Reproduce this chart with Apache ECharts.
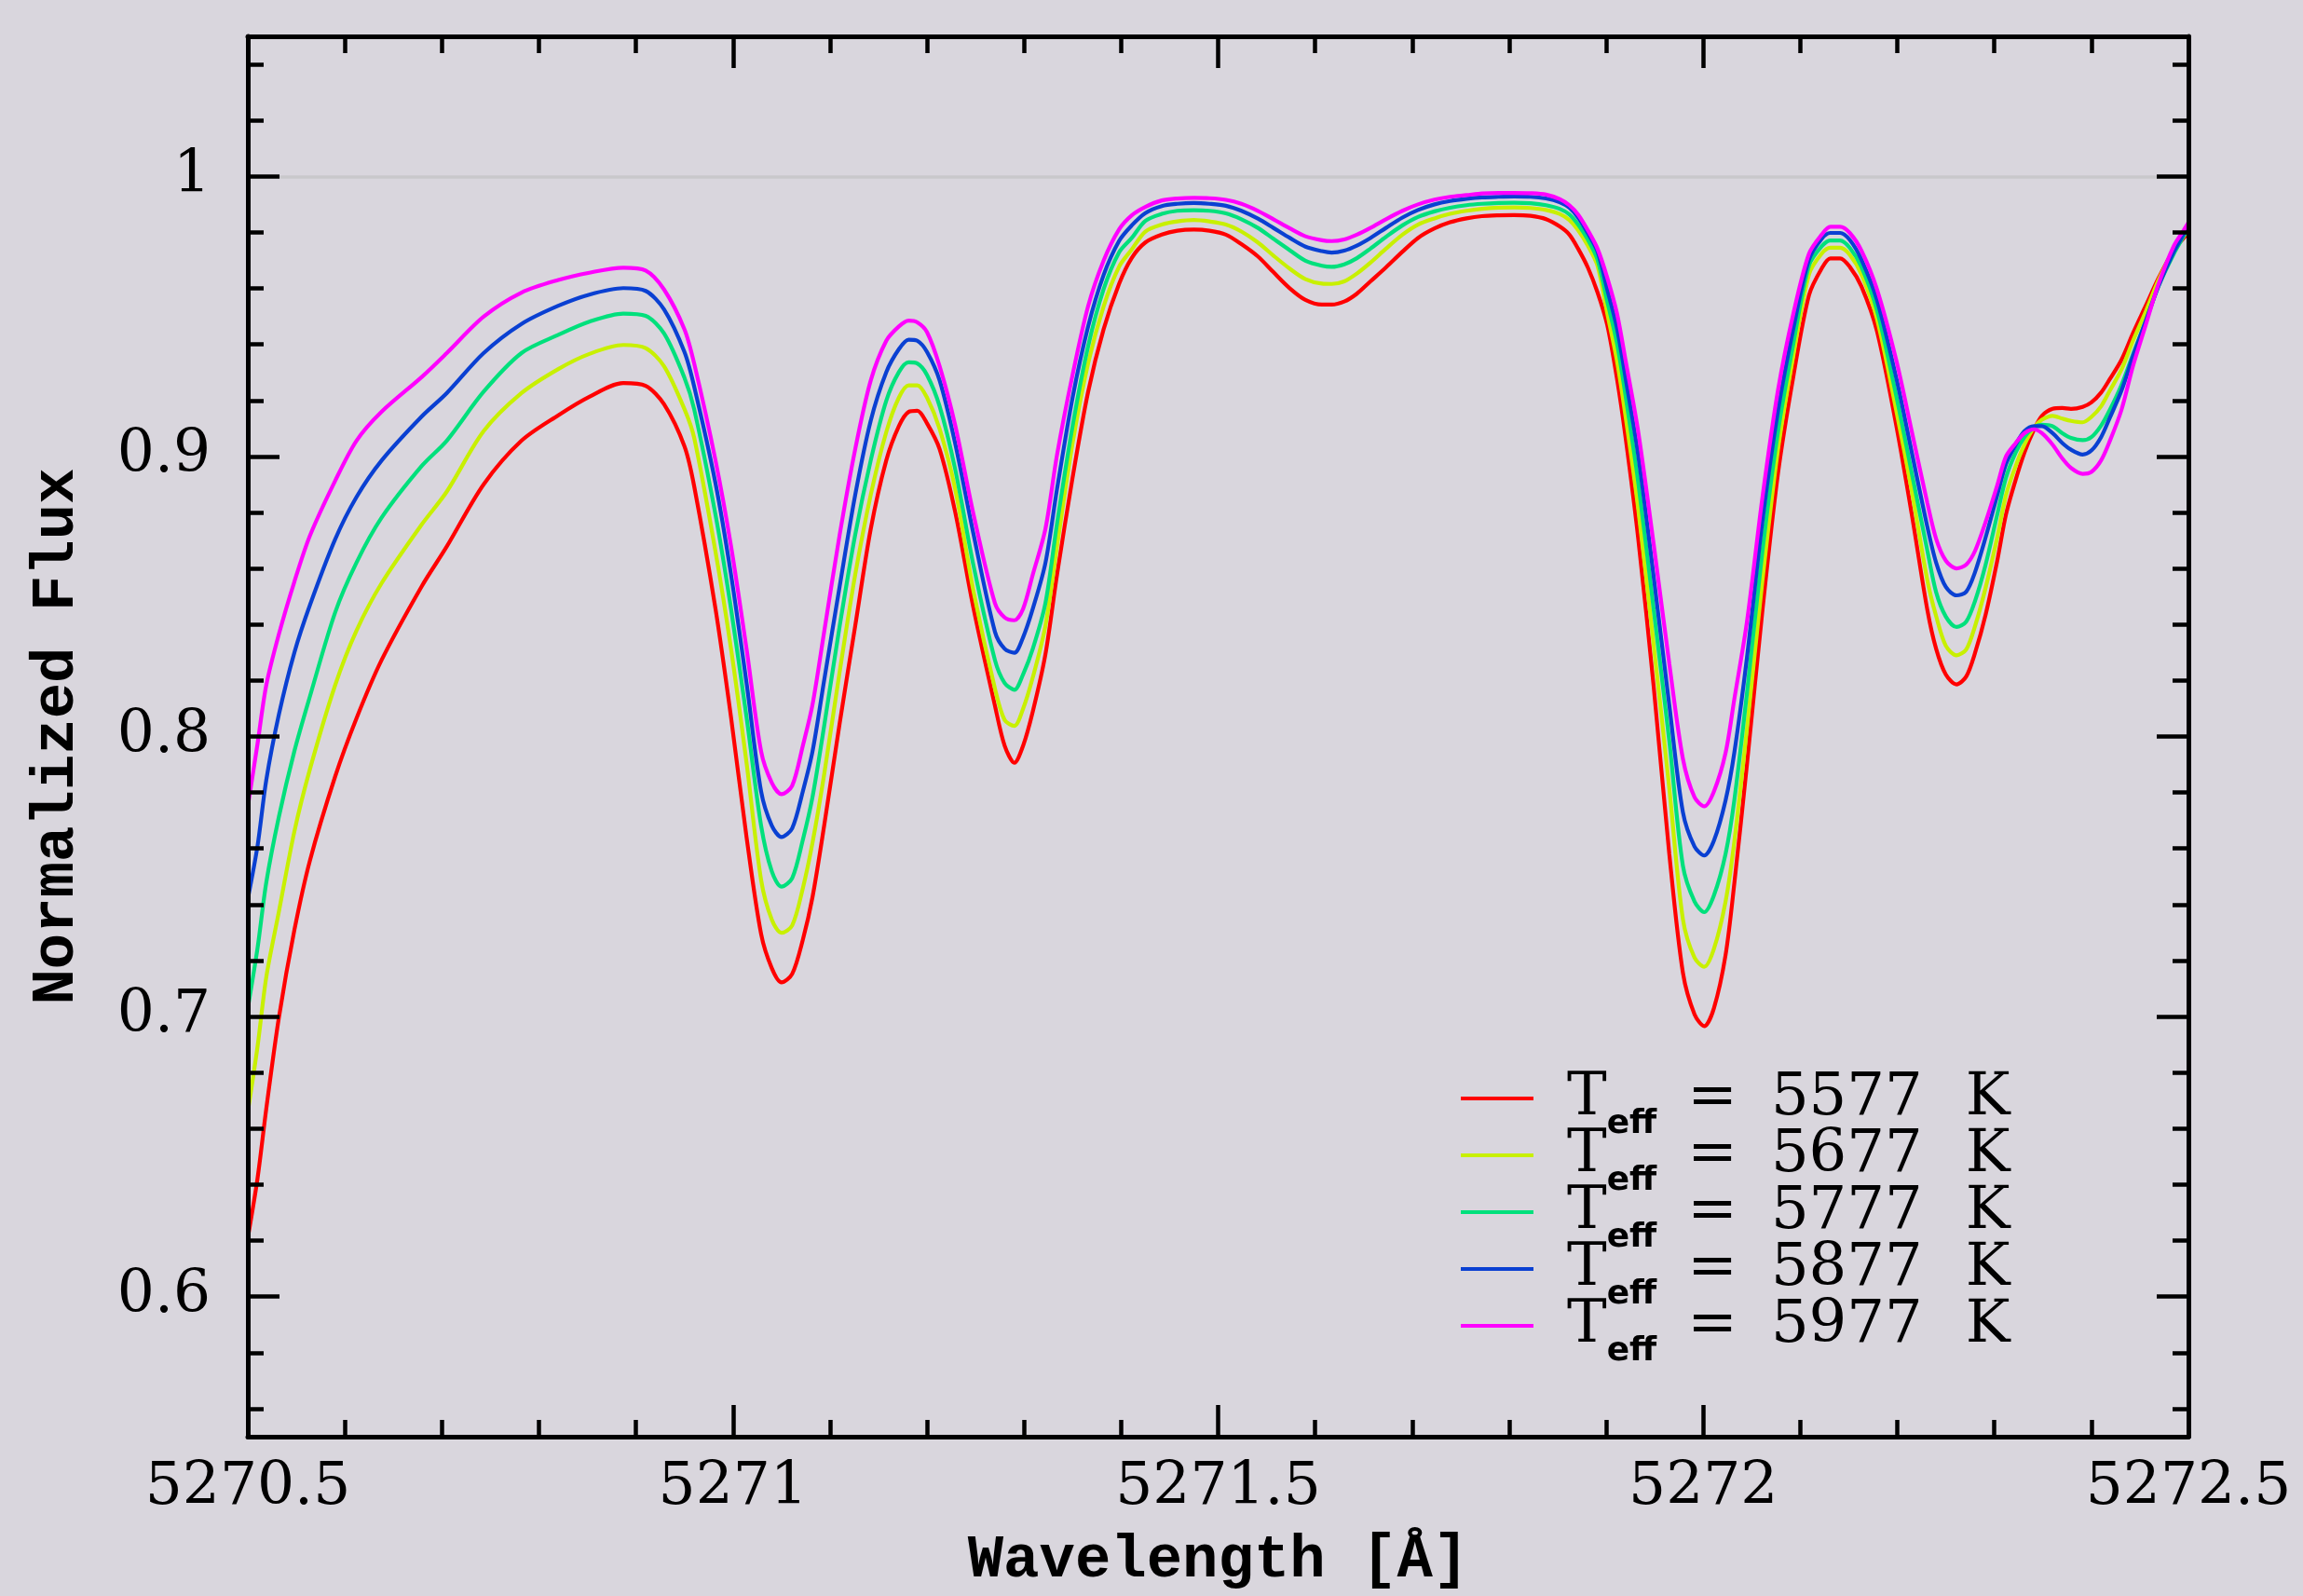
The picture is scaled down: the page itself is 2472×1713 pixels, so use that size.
<!DOCTYPE html>
<html>
<head>
<meta charset="utf-8">
<script src="https://cdn.jsdelivr.net/npm/echarts@6/dist/echarts.min.js"></script>
<style>
  html, body { margin: 0; padding: 0; background: #d9d6dd; }
  #main { width: 2472px; height: 1713px; }
</style>
</head>
<body>
<div id="main"></div>
<script>
// wavelength grid [Angstrom]
var wavelength = [
  5270.500, 5270.510, 5270.519, 5270.532, 5270.548, 5270.564, 5270.590, 5270.612, 5270.638, 5270.679,
  5270.705, 5270.743, 5270.782, 5270.820, 5270.852, 5270.887, 5270.910, 5270.929,
  5270.950, 5270.960, 5270.982, 5270.998, 5271.014, 5271.029, 5271.040, 5271.050, 5271.061, 5271.072,
  5271.082, 5271.094, 5271.110, 5271.126, 5271.142, 5271.158, 5271.171, 5271.181, 5271.190, 5271.200,
  5271.213, 5271.229, 5271.248, 5271.270, 5271.280, 5271.290, 5271.299, 5271.309, 5271.322, 5271.334,
  5271.350, 5271.366, 5271.382, 5271.398, 5271.411,
  5271.425, 5271.442, 5271.458, 5271.475, 5271.491, 5271.508, 5271.524, 5271.541, 5271.557, 5271.574,
  5271.590, 5271.607, 5271.617, 5271.630, 5271.643, 5271.657, 5271.673, 5271.690, 5271.706, 5271.723,
  5271.739, 5271.756, 5271.772, 5271.789, 5271.805, 5271.822, 5271.838, 5271.852, 5271.862, 5271.871,
  5271.881, 5271.891,
  5271.901, 5271.911, 5271.920, 5271.933, 5271.949, 5271.965, 5271.979, 5271.991, 5272.001, 5272.011,
  5272.023, 5272.032, 5272.045, 5272.061, 5272.077, 5272.093, 5272.109, 5272.122, 5272.131, 5272.141,
  5272.151, 5272.163, 5272.179, 5272.199, 5272.215, 5272.231, 5272.240,
  5272.250, 5272.261, 5272.271, 5272.280, 5272.291, 5272.303, 5272.312, 5272.322, 5272.331, 5272.341,
  5272.349, 5272.360, 5272.370, 5272.379, 5272.391, 5272.400, 5272.410, 5272.419, 5272.431, 5272.443,
  5272.456, 5272.469, 5272.485, 5272.495, 5272.500
];

var flux5577 = [
  0.621, 0.6422, 0.6670, 0.6996, 0.7309, 0.7557, 0.7857, 0.8065, 0.8274, 0.8535,
  0.8678, 0.8900, 0.9056, 0.9147, 0.9213, 0.9262, 0.9252, 0.9186,
  0.9036, 0.8894, 0.8456, 0.8069, 0.7641, 0.7295, 0.7173, 0.7122, 0.7152, 0.7274,
  0.7427, 0.7682, 0.8048, 0.8395, 0.8741, 0.8986, 0.9108, 0.9159, 0.9163, 0.9118,
  0.9026, 0.8802, 0.8456, 0.8110, 0.7967, 0.7906, 0.7967, 0.8089, 0.8293, 0.8578,
  0.8924, 0.9230, 0.9454, 0.9617, 0.9709,
  0.9764, 0.9792, 0.9806, 0.9810, 0.9806, 0.9792, 0.9758, 0.9714, 0.9658, 0.9600,
  0.9559, 0.9542, 0.9542, 0.9553, 0.9581, 0.9625, 0.9675, 0.9731, 0.9780, 0.9814,
  0.9836, 0.9850, 0.9858, 0.9861, 0.9862, 0.9859, 0.9847, 0.9821, 0.9792, 0.9742,
  0.9675, 0.9586,
  0.9470, 0.9279, 0.9066, 0.8706, 0.8175, 0.7581, 0.7157, 0.7008, 0.6966, 0.7030,
  0.7220, 0.7475, 0.7899, 0.8451, 0.8939, 0.9289, 0.9576, 0.9671, 0.9707, 0.9707,
  0.9677, 0.9607, 0.9448, 0.9109, 0.8791, 0.8451, 0.8313,
  0.8221, 0.8186, 0.8214, 0.8297, 0.8435, 0.8628, 0.8793, 0.8917, 0.9014, 0.9097,
  0.9145, 0.9170, 0.9173, 0.9170, 0.9177, 0.9193, 0.9228, 0.9276, 0.9345, 0.9441,
  0.9538, 0.9635, 0.9738, 0.9779, 0.9800
];

var flux5677 = [
  0.666, 0.6892, 0.7140, 0.7374, 0.7661, 0.7883, 0.8183, 0.8378, 0.8548, 0.8756,
  0.8874, 0.9090, 0.9226, 0.9312, 0.9366, 0.9398, 0.9387, 0.9322,
  0.9169, 0.9067, 0.8660, 0.8313, 0.7906, 0.7488, 0.7346, 0.7299, 0.7325, 0.7458,
  0.7621, 0.7865, 0.8232, 0.8578, 0.8863, 0.9087, 0.9210, 0.9254, 0.9254, 0.9210,
  0.9098, 0.8884, 0.8517, 0.8171, 0.8059, 0.8038, 0.8099, 0.8211, 0.8395, 0.8680,
  0.9047, 0.9332, 0.9536, 0.9678, 0.9739,
  0.9803, 0.9828, 0.9839, 0.9844, 0.9839, 0.9828, 0.9803, 0.9764, 0.9717, 0.9670,
  0.9633, 0.9617, 0.9616, 0.9625, 0.9653, 0.9692, 0.9742, 0.9792, 0.9828, 0.9850,
  0.9866, 0.9877, 0.9884, 0.9888, 0.9889, 0.9887, 0.9880, 0.9866, 0.9844, 0.9808,
  0.9753, 0.9681,
  0.9512, 0.9342, 0.9141, 0.8812, 0.8324, 0.7815, 0.7348, 0.7210, 0.7178, 0.7242,
  0.7411, 0.7624, 0.8027, 0.8557, 0.9024, 0.9363, 0.9650, 0.9724, 0.9745, 0.9745,
  0.9720, 0.9650, 0.9491, 0.9162, 0.8875, 0.8557, 0.8430,
  0.8324, 0.8290, 0.8311, 0.8393, 0.8531, 0.8711, 0.8862, 0.8966, 0.9042, 0.9104,
  0.9131, 0.9145, 0.9135, 0.9127, 0.9122, 0.9141, 0.9179, 0.9235, 0.9310, 0.9414,
  0.9517, 0.9628, 0.9738, 0.9786, 0.9811
];

var flux5777 = [
  0.703, 0.7244, 0.7478, 0.7713, 0.7948, 0.8143, 0.8443, 0.8621, 0.8782, 0.8965,
  0.9056, 0.9231, 0.9369, 0.9434, 0.9481, 0.9510, 0.9502, 0.9439,
  0.9281, 0.9169, 0.8792, 0.8456, 0.8069, 0.7682, 0.7519, 0.7464, 0.7494, 0.7631,
  0.7784, 0.8038, 0.8395, 0.8721, 0.8986, 0.9199, 0.9301, 0.9336, 0.9332, 0.9291,
  0.9179, 0.8955, 0.8609, 0.8273, 0.8191, 0.8167, 0.8222, 0.8313, 0.8476, 0.8761,
  0.9108, 0.9393, 0.9597, 0.9729, 0.9780,
  0.9841, 0.9866, 0.9877, 0.9879, 0.9877, 0.9868, 0.9847, 0.9816, 0.9777, 0.9736,
  0.9699, 0.9681, 0.9677, 0.9686, 0.9708, 0.9742, 0.9784, 0.9825, 0.9855, 0.9875,
  0.9888, 0.9897, 0.9902, 0.9905, 0.9906, 0.9904, 0.9897, 0.9884, 0.9864, 0.9828,
  0.9775, 0.9703,
  0.9554, 0.9406, 0.9215, 0.8907, 0.8451, 0.7984, 0.7539, 0.7411, 0.7373, 0.7433,
  0.7581, 0.7772, 0.8154, 0.8663, 0.9088, 0.9406, 0.9682, 0.9750, 0.9771, 0.9771,
  0.9745, 0.9677, 0.9523, 0.9215, 0.8939, 0.8663, 0.8515,
  0.8428, 0.8391, 0.8410, 0.8483, 0.8614, 0.8793, 0.8924, 0.9014, 0.9069, 0.9104,
  0.9113, 0.9108, 0.9083, 0.9066, 0.9058, 0.9069, 0.9110, 0.9166, 0.9255, 0.9366,
  0.9483, 0.9607, 0.9724, 0.9786, 0.9821
];

var flux5877 = [
  0.742, 0.7609, 0.7844, 0.8078, 0.8300, 0.8469, 0.8704, 0.8855, 0.8986, 0.9142,
  0.9226, 0.9369, 0.9473, 0.9538, 0.9578, 0.9601, 0.9591, 0.9525,
  0.9373, 0.9250, 0.8904, 0.8578, 0.8191, 0.7804, 0.7682, 0.7641, 0.7672, 0.7804,
  0.7947, 0.8201, 0.8537, 0.8863, 0.9128, 0.9301, 0.9383, 0.9417, 0.9413, 0.9373,
  0.9271, 0.9047, 0.8721, 0.8374, 0.8313, 0.8299, 0.8354, 0.8456, 0.8619, 0.8884,
  0.9210, 0.9464, 0.9648, 0.9770, 0.9825,
  0.9869, 0.9894, 0.9902, 0.9905, 0.9902, 0.9895, 0.9877, 0.9849, 0.9816, 0.9780,
  0.9749, 0.9733, 0.9728, 0.9735, 0.9753, 0.9780, 0.9816, 0.9853, 0.9880, 0.9900,
  0.9912, 0.9920, 0.9925, 0.9927, 0.9928, 0.9927, 0.9921, 0.9908, 0.9888, 0.9853,
  0.9797, 0.9731,
  0.9597, 0.9459, 0.9279, 0.9003, 0.8568, 0.8112, 0.7730, 0.7607, 0.7575, 0.7628,
  0.7772, 0.7942, 0.8281, 0.8769, 0.9162, 0.9459, 0.9703, 0.9777, 0.9798, 0.9798,
  0.9773, 0.9703, 0.9559, 0.9279, 0.9013, 0.8748, 0.8621,
  0.8534, 0.8504, 0.8517, 0.8586, 0.8711, 0.8862, 0.8973, 0.9042, 0.9090, 0.9108,
  0.9108, 0.9083, 0.9048, 0.9024, 0.9007, 0.9021, 0.9069, 0.9138, 0.9235, 0.9359,
  0.9483, 0.9607, 0.9731, 0.9793, 0.9828
];

var flux5977 = [
  0.775, 0.7974, 0.8183, 0.8365, 0.8553, 0.8717, 0.8913, 0.9056, 0.9160, 0.9283,
  0.9369, 0.9499, 0.9585, 0.9630, 0.9656, 0.9674, 0.9664, 0.9596,
  0.9454, 0.9332, 0.8986, 0.8680, 0.8313, 0.7947, 0.7835, 0.7794, 0.7824, 0.7967,
  0.8114, 0.8374, 0.8721, 0.9026, 0.9271, 0.9413, 0.9464, 0.9485, 0.9479, 0.9444,
  0.9322, 0.9112, 0.8792, 0.8476, 0.8425, 0.8415, 0.8456, 0.8578, 0.8741, 0.9006,
  0.9291, 0.9536, 0.9699, 0.9811, 0.9861,
  0.9891, 0.9914, 0.9921, 0.9923, 0.9922, 0.9916, 0.9902, 0.9877, 0.9847, 0.9814,
  0.9786, 0.9772, 0.9769, 0.9775, 0.9792, 0.9816, 0.9847, 0.9877, 0.9900, 0.9917,
  0.9927, 0.9933, 0.9939, 0.9941, 0.9941, 0.9940, 0.9935, 0.9919, 0.9897, 0.9864,
  0.9808, 0.9742,
  0.9639, 0.9512, 0.9342, 0.9088, 0.8684, 0.8260, 0.7921, 0.7783, 0.7751, 0.7804,
  0.7942, 0.8133, 0.8409, 0.8854, 0.9236, 0.9512, 0.9724, 0.9792, 0.9820, 0.9820,
  0.9798, 0.9735, 0.9597, 0.9342, 0.9088, 0.8833, 0.8706,
  0.8628, 0.8600, 0.8614, 0.8662, 0.8766, 0.8897, 0.9000, 0.9048, 0.9083, 0.9097,
  0.9083, 0.9042, 0.8993, 0.8959, 0.8938, 0.8945, 0.8986, 0.9055, 0.9166, 0.9324,
  0.9469, 0.9614, 0.9752, 0.9807, 0.9835
];

var teffNames = ['5577', '5677', '5777', '5877', '5977'];
var teffColors = ['#ff0000', '#c8f000', '#00e07c', '#0a40d2', '#ff00ff'];
var fluxes = [flux5577, flux5677, flux5777, flux5877, flux5977];

var yMajor = [0.6, 0.7, 0.8, 0.9, 1.0];
var yMinor = [0.56, 0.58, 0.62, 0.64, 0.66, 0.68, 0.72, 0.74, 0.76, 0.78, 0.82, 0.84, 0.86, 0.88,
              0.92, 0.94, 0.96, 0.98, 1.02, 1.04];

var labelFont = 'DejaVu Serif';
var titleFont = 'Liberation Mono';
var black = '#000';

var chart = echarts.init(document.getElementById('main'), null, { renderer: 'canvas' });

function xAx(pos, showLabel) {
  return {
    type: 'value', position: pos, min: 5270.5, max: 5272.5, interval: 0.5, z: 10,
    name: showLabel ? 'Wavelength [Å]' : '',
    nameLocation: 'middle', nameGap: 102,
    nameTextStyle: { fontFamily: titleFont, fontWeight: 'bold', fontSize: 64, color: black },
    axisLine: { show: true, lineStyle: { color: black, width: 5 } },
    axisTick: { show: true, inside: true, length: 34, lineStyle: { color: black, width: 4.5 } },
    minorTick: { show: true, splitNumber: 5, length: 18, lineStyle: { color: black, width: 4.5 } },
    axisLabel: {
      show: showLabel, margin: 24, fontFamily: labelFont, fontSize: 63, color: black,
      formatter: function (v) { return String(+v.toFixed(1)); }
    },
    splitLine: { show: false }
  };
}

function yAx(pos, major, showLabel) {
  var vals = major ? yMajor : yMinor;
  return {
    type: 'value', position: pos, min: 0.55, max: 1.05, z: 10,
    name: showLabel ? 'Normalized Flux' : '',
    nameLocation: 'middle', nameGap: 172, nameRotate: 90,
    nameTextStyle: { fontFamily: titleFont, fontWeight: 'bold', fontSize: 64, color: black },
    axisLine: { show: major, lineStyle: { color: black, width: 5 } },
    axisTick: { show: true, inside: true, length: major ? 34 : 17, customValues: vals,
                lineStyle: { color: black, width: 4.5 } },
    axisLabel: { show: showLabel, margin: 40, customValues: yMajor,
                 fontFamily: labelFont, fontSize: 63, color: black },
    splitLine: { show: false }
  };
}

var series = fluxes.map(function (f, i) {
  var s = {
    name: teffNames[i],
    type: 'line',
    xAxisIndex: 0,
    yAxisIndex: 0,
    data: wavelength.map(function (w, k) { return [w, f[k]]; }),
    showSymbol: false,
    symbol: 'none',
    smooth: 0.3,
    lineStyle: { color: teffColors[i], width: 4.2 },
    itemStyle: { color: teffColors[i] },
    emphasis: { disabled: true },
    z: 3
  };
  if (i === 0) {
    // grey continuum level at 1
    s.markLine = {
      silent: true, symbol: ['none', 'none'], label: { show: false },
      lineStyle: { color: '#c9c8cb', width: 3.5, type: 'solid' },
      data: [{ yAxis: 1 }]
    };
  }
  return s;
});

chart.setOption({
  backgroundColor: '#d9d6dd',
  animation: false,
  grid: { left: 266, right: 123, top: 39, bottom: 171, containLabel: false },
  xAxis: [xAx('bottom', true), xAx('top', false)],
  yAxis: [yAx('left', true, true), yAx('left', false, false), yAx('right', true, false), yAx('right', false, false)],
  legend: {
    orient: 'vertical',
    left: 1568,
    top: 1147,
    padding: 0,
    itemWidth: 78,
    itemHeight: 4,
    itemGap: -17,
    icon: 'rect',
    selectedMode: false,
    data: teffNames,
    formatter: function (n) { return '{t|T}{s|eff}{e|=}{n|' + n + '}{k|K}'; },
    textStyle: {
      color: black,
      rich: {
        t: { fontFamily: labelFont, fontSize: 64, lineHeight: 64, verticalAlign: 'top', padding: [0, 0, 0, 31], color: black },
        s: { fontFamily: 'DejaVu Sans', fontWeight: 'bold', fontSize: 36, lineHeight: 36, verticalAlign: 'top', padding: [42, 0, 0, 0], color: black },
        e: { fontFamily: labelFont, fontSize: 64, lineHeight: 64, verticalAlign: 'top', padding: [0, 0, 0, 33], color: black },
        n: { fontFamily: labelFont, fontSize: 64, lineHeight: 64, verticalAlign: 'top', padding: [0, 0, 0, 36], color: black },
        k: { fontFamily: labelFont, fontSize: 64, lineHeight: 64, verticalAlign: 'top', padding: [0, 0, 0, 46], color: black }
      }
    }
  },
  series: series
});
</script>
</body>
</html>
